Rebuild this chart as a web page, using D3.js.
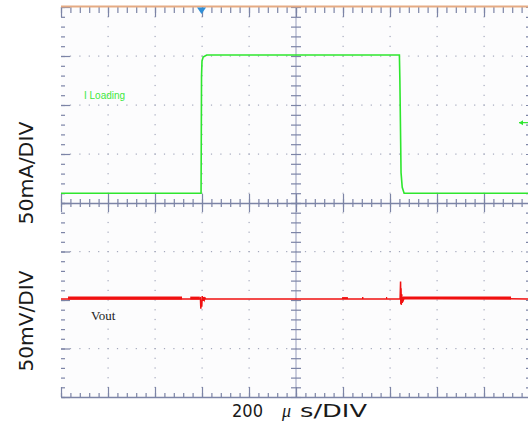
<!DOCTYPE html>
<html>
<head>
<meta charset="utf-8">
<script src="https://cdn.jsdelivr.net/npm/d3@7"></script>
<style>
  html, body { margin: 0; padding: 0; background: #ffffff; }
  svg { display: block; }
</style>
</head>
<body>
<svg id="chart" width="528" height="429"></svg>
<script>
// ---------- data ----------
const timeDomain = [0, 2000];          // µs  (200 µs/DIV x 10)
const currentDomain = [0, 200];        // mA  (50 mA/DIV x 4)
const voltageDomain = [-100, 100];     // mV  (50 mV/DIV x 4)

const iTime = [0, 596, 598, 600, 605, 620, 1440, 1442, 1447, 1452, 1460, 2000];
const iLoad = [10, 10, 129, 145, 149, 151, 151, 126, 31, 16, 10, 10];

const vTime = [0, 588, 590, 593, 595, 597, 599, 601, 604, 607, 610, 613, 616,
               1440, 1443, 1445, 1446, 1447, 1448, 1450, 1452, 1454, 1457, 1460, 2000];
const vOut  = [1, 1, 1, 3, -9, -2, -7, 4, -1, 3, 0, 2, 1,
               1, 1, 19, -4, 12, -5, 6, -3, 3, 0, 2, 1];

const noiseStart = [30, 550, 1196, 1281, 1383, 1455];
const noiseEnd   = [515, 590, 1221, 1287, 1388, 1915];
const noiseLow   = [0.5, 0.5, 1, 1, 1, 0.5];
const noiseHigh  = [3.5, 3.5, 3, 3, 3, 3.5];

const triggerTime = 598;   // µs
const refLevel = 82;       // mA, channel marker at right

const timeMajor = d3.range(0, 2001, 200);
const timeMinor = d3.range(0, 2001, 40);
const currentMajor = d3.range(0, 201, 50);
const currentMinor = d3.range(0, 201, 10);
const voltageMajor = d3.range(-100, 101, 50);
const voltageMinor = d3.range(-100, 101, 10);

// ---------- layout ----------
const svg = d3.select("#chart");
const L = 61, R = 531, T = 7, M = 203, B = 397;

const x = d3.scaleLinear().domain(timeDomain).range([L, R]);
const yI = d3.scaleLinear().domain(currentDomain).range([M, T]);
const yV = d3.scaleLinear().domain(voltageDomain).range([B, M]);

const axisColor = "#7c84a6";
const lightAxis = "#b9bdd0";
const dotColor = "#a4a8bc";

svg.append("rect").attr("x", L).attr("y", T).attr("width", R - L).attr("height", B - T)
  .attr("fill", "#fcfcfd");

// dotted grid
const grid = svg.append("g");
// horizontal grid rows (dots at minor time steps)
const rowsI = currentMajor.filter(d => d !== 0 && d !== 200).map(d => yI(d));
const rowsV = voltageMajor.filter(d => d !== -100 && d !== 100 && d !== 0).map(d => yV(d));
const rows = rowsI.concat(rowsV);
rows.forEach(yy => {
  grid.selectAll(null).data(timeMinor.filter(t => t > 0 && t < 2000)).join("rect")
    .attr("x", d => x(d) - 0.5).attr("y", yy - 0.5).attr("width", 1.2).attr("height", 1.2)
    .attr("fill", dotColor);
});
const cols = timeMajor.filter(t => t > 0 && t < 2000 && t !== 1000).map(t => x(t));
cols.forEach(xx => {
  grid.selectAll(null).data(currentMinor.filter(d => d > 0 && d < 200)).join("rect")
    .attr("x", xx - 0.5).attr("y", d => yI(d) - 0.5).attr("width", 1.2).attr("height", 1.2)
    .attr("fill", dotColor);
  grid.selectAll(null).data(voltageMinor.filter(d => d > -100 && d < 100)).join("rect")
    .attr("x", xx - 0.5).attr("y", d => yV(d) - 0.5).attr("width", 1.2).attr("height", 1.2)
    .attr("fill", dotColor);
});

function styleAxis(g, showDomain) {
  g.selectAll(".tick line").attr("stroke", axisColor).attr("stroke-width", 1.2);
  g.selectAll(".tick text").remove();
  if (!showDomain) g.select(".domain").remove();
  else g.select(".domain").attr("stroke", axisColor).attr("stroke-width", 1.5);
}

// center vertical line (light)
svg.append("line").attr("x1", x(1000)).attr("x2", x(1000)).attr("y1", T).attr("y2", B)
  .attr("stroke", lightAxis).attr("stroke-width", 1.5);

// top edge ticks
svg.append("g").attr("transform", `translate(0,${T})`)
  .call(d3.axisBottom(x).tickValues(timeMinor).tickSize(6).tickSizeOuter(0).tickFormat(""))
  .call(g => styleAxis(g, false));
svg.append("g").attr("transform", `translate(0,${T})`)
  .call(d3.axisBottom(x).tickValues(timeMajor).tickSize(10).tickSizeOuter(0).tickFormat(""))
  .call(g => styleAxis(g, false));
// bottom edge
svg.append("g").attr("transform", `translate(0,${B})`)
  .call(d3.axisTop(x).tickValues(timeMinor).tickSize(4).tickSizeOuter(0).tickFormat(""))
  .call(g => styleAxis(g, true));
svg.append("g").attr("transform", `translate(0,${B})`)
  .call(d3.axisTop(x).tickValues(timeMajor).tickSize(10).tickSizeOuter(0).tickFormat(""))
  .call(g => styleAxis(g, false));
// center horizontal axis (ticks both sides)
svg.append("g").attr("transform", `translate(0,${M})`)
  .call(d3.axisTop(x).tickValues(timeMinor).tickSize(4).tickSizeOuter(0).tickFormat(""))
  .call(g => styleAxis(g, true));
svg.append("g").attr("transform", `translate(0,${M})`)
  .call(d3.axisBottom(x).tickValues(timeMinor).tickSize(4).tickSizeOuter(0).tickFormat(""))
  .call(g => styleAxis(g, false));
svg.append("g").attr("transform", `translate(0,${M})`)
  .call(d3.axisBottom(x).tickValues(timeMajor).tickSize(9).tickSizeOuter(0).tickFormat(""))
  .call(g => styleAxis(g, false));
svg.append("g").attr("transform", `translate(0,${M - 9})`)
  .call(d3.axisBottom(x).tickValues(timeMajor).tickSize(9).tickSizeOuter(0).tickFormat(""))
  .call(g => styleAxis(g, false));

// vertical edges and center (current panel + voltage panel)
[[yI, currentMinor, currentMajor], [yV, voltageMinor, voltageMajor]].forEach(([ys, minor, major]) => {
  svg.append("g").attr("transform", `translate(${L},0)`)
    .call(d3.axisRight(ys).tickValues(minor).tickSize(4).tickSizeOuter(0).tickFormat(""))
    .call(g => styleAxis(g, false));
  svg.append("g").attr("transform", `translate(${L},0)`)
    .call(d3.axisRight(ys).tickValues(major).tickSize(9).tickSizeOuter(0).tickFormat(""))
    .call(g => styleAxis(g, false));
  svg.append("g").attr("transform", `translate(${R},0)`)
    .call(d3.axisLeft(ys).tickValues(minor).tickSize(5).tickSizeOuter(0).tickFormat(""))
    .call(g => styleAxis(g, false));
  svg.append("g").attr("transform", `translate(${x(1000) + 5},0)`)
    .call(d3.axisLeft(ys).tickValues(minor).tickSize(10).tickSizeOuter(0).tickFormat(""))
    .call(g => styleAxis(g, false));
});

// top border (orange)
svg.append("line").attr("x1", L).attr("x2", R).attr("y1", T - 0.5).attr("y2", T - 0.5)
  .attr("stroke", "#e5ab84").attr("stroke-width", 2);

// trigger marker
svg.append("path")
  .attr("d", `M${x(triggerTime) - 4.5},${T + 0.5} L${x(triggerTime) + 4.5},${T + 0.5} L${x(triggerTime)},${T + 7} Z`)
  .attr("fill", "#2f8fd8");

// ---------- traces ----------
const iData = iTime.map((t, k) => [t, iLoad[k]]);
svg.append("path").datum(iData)
  .attr("d", d3.line().x(d => x(d[0])).y(d => yI(d[1])))
  .attr("fill", "none").attr("stroke", "#2ee62e").attr("stroke-width", 1.6);

// channel reference marker (green arrow at right)
const ry = yI(refLevel);
svg.append("line").attr("x1", x(2000) - 12).attr("x2", x(2000)).attr("y1", ry).attr("y2", ry)
  .attr("stroke", "#2ee62e").attr("stroke-width", 1.2);
svg.append("path").attr("d", `M${x(2000) - 12},${ry} l4,-2.5 l0,5 Z`).attr("fill", "#2ee62e");

// noise bands for Vout
const noise = noiseStart.map((s, k) => ({ s, e: noiseEnd[k], lo: noiseLow[k], hi: noiseHigh[k] }));
svg.append("g").selectAll("path").data(noise).join("path")
  .attr("d", n => d3.area().x(d => x(d)).y0(yV(n.lo)).y1(yV(n.hi))([n.s, n.e]))
  .attr("fill", "#f01010");

const vData = vTime.map((t, k) => [t, vOut[k]]);
svg.append("path").datum(vData)
  .attr("d", d3.line().x(d => x(d[0])).y(d => yV(d[1])))
  .attr("fill", "none").attr("stroke", "#f01010").attr("stroke-width", 1.5);

// ---------- labels ----------
svg.append("text").attr("x", 84).attr("y", 99)
  .attr("font-family", "Liberation Sans, Arial, sans-serif").attr("font-size", 10)
  .attr("fill", "#3ee83e").text("I Loading");

svg.append("text").attr("x", 91).attr("y", 320)
  .attr("font-family", "Liberation Serif, Times New Roman, serif").attr("font-size", 13)
  .attr("fill", "#222").text("Vout");

svg.append("text").attr("transform", "translate(33,173) rotate(-90)")
  .attr("text-anchor", "middle")
  .attr("font-family", "DejaVu Sans, sans-serif").attr("font-size", 20)
  .attr("textLength", 103).attr("lengthAdjust", "spacingAndGlyphs")
  .attr("fill", "#1a1a1a").text("50mA/DIV");

svg.append("text").attr("transform", "translate(33,321) rotate(-90)")
  .attr("text-anchor", "middle")
  .attr("font-family", "DejaVu Sans, sans-serif").attr("font-size", 20)
  .attr("textLength", 101).attr("lengthAdjust", "spacingAndGlyphs")
  .attr("fill", "#1a1a1a").text("50mV/DIV");

svg.append("text").attr("x", 232).attr("y", 417)
  .attr("font-family", "DejaVu Sans, sans-serif").attr("font-size", 17)
  .attr("textLength", 31).attr("lengthAdjust", "spacingAndGlyphs")
  .attr("fill", "#1a1a1a").text("200");
svg.append("text").attr("x", 282).attr("y", 417)
  .attr("font-family", "Liberation Serif, serif").attr("font-style", "italic").attr("font-size", 18)
  .attr("fill", "#1a1a1a").text("\u03bc");
svg.append("text").attr("x", 300).attr("y", 417)
  .attr("font-family", "DejaVu Sans, sans-serif").attr("font-size", 17)
  .attr("textLength", 67).attr("lengthAdjust", "spacingAndGlyphs")
  .attr("fill", "#1a1a1a").text("s/DIV");
</script>
</body>
</html>
